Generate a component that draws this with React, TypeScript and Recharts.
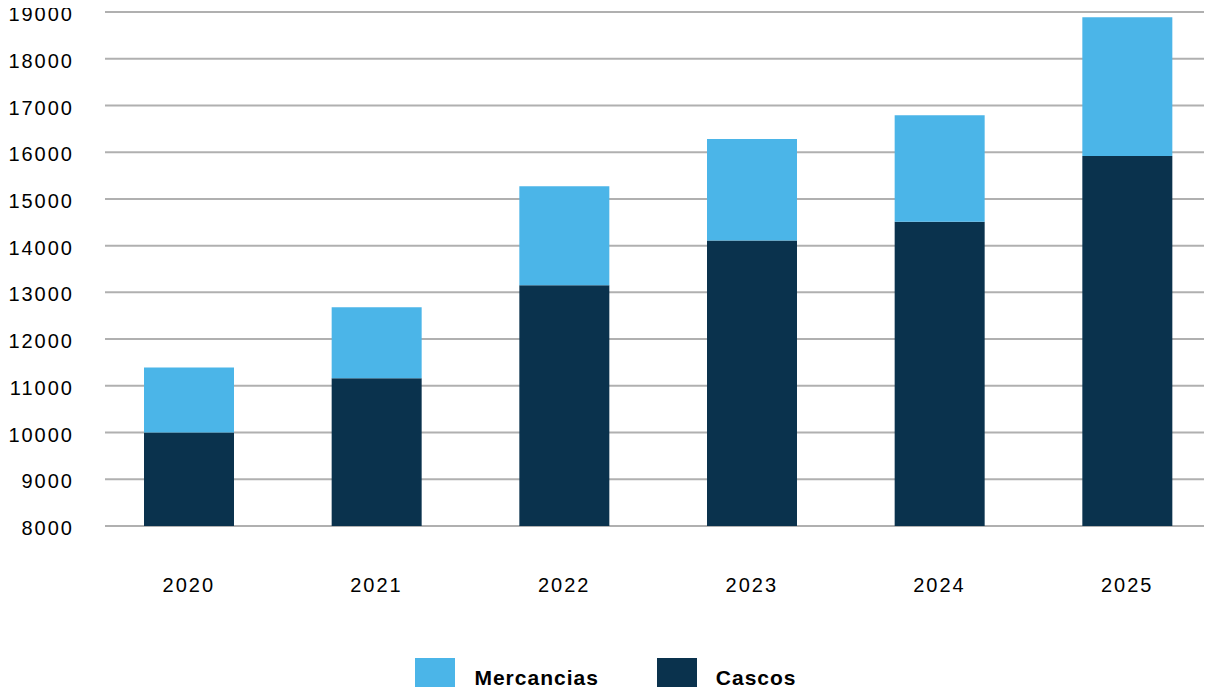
import React from "react";
import { Bar, BarChart, CartesianGrid, Legend, XAxis, YAxis } from "recharts";

const years = ["2020", "2021", "2022", "2023", "2024", "2025"];
const cascos = [10000, 11160, 13150, 14110, 14510, 15920];
const mercancias = [1390, 1520, 2120, 2170, 2280, 2970];
const yTicks = [8000, 9000, 10000, 11000, 12000, 13000, 14000, 15000, 16000, 17000, 18000, 19000];

const LIGHT = "#4BB5E8";
const DARK = "#0A324D";
const GRID = "#b0b0b0";
const FONT = "'Liberation Sans', Arial, sans-serif";

const data = years.map((year, i) => ({ year, cascos: cascos[i], mercancias: mercancias[i] }));

function LegendBox() {
  const items = [
    { label: "Mercancias", color: LIGHT },
    { label: "Cascos", color: DARK },
  ];
  return (
    <div style={{ display: "flex", justifyContent: "center", height: 40, fontFamily: FONT }}>
      {items.map((it, i) => (
        <div key={it.label} style={{ display: "flex", alignItems: "center", marginLeft: i ? 58 : 0 }}>
          <div style={{ width: 40, height: 40, background: it.color }} />
          <span style={{ marginLeft: 19, fontSize: 21, fontWeight: 700, letterSpacing: 1, color: "#000" }}>{it.label}</span>
        </div>
      ))}
    </div>
  );
}

export default function App() {
  return (
    <div style={{ margin: -8, width: 1212, height: 695, overflow: "hidden", position: "relative", background: "#fff" }}>
      <BarChart
        width={1230}
        height={695}
        data={data}
        margin={{ top: 12, right: 9, left: 0, bottom: 49 }}
        barSize={90}
      >
        <CartesianGrid
          vertical={false}
          horizontal={(p: any) => (
            <line key={p.key ?? `h-${p.index}`} x1={p.x1 + 10} y1={p.y1} x2={p.x2 + 20} y2={p.y2} stroke={GRID} strokeWidth={2} />
          )}
        />
        <XAxis
          dataKey="year"
          axisLine={false}
          tickLine={false}
          tickMargin={46}
          height={80}
          tick={{ fill: "#000", fontSize: 20, fontFamily: FONT, letterSpacing: 2 }}
        />
        <YAxis
          type="number"
          domain={[8000, 19000]}
          ticks={yTicks}
          allowDataOverflow
          interval={0}
          axisLine={false}
          tickLine={false}
          tickMargin={15}
          width={95}
          tick={{ fill: "#000", fontSize: 20, fontFamily: FONT, letterSpacing: 2, dy: 2 }}
        />
        <Legend content={() => <LegendBox />} wrapperStyle={{ top: 658, bottom: "auto", left: 0, width: 1212 }} />
        <Bar dataKey="cascos" name="Cascos" stackId="a" fill={DARK} isAnimationActive={false} />
        <Bar dataKey="mercancias" name="Mercancias" stackId="a" fill={LIGHT} isAnimationActive={false} />
      </BarChart>
    </div>
  );
}
